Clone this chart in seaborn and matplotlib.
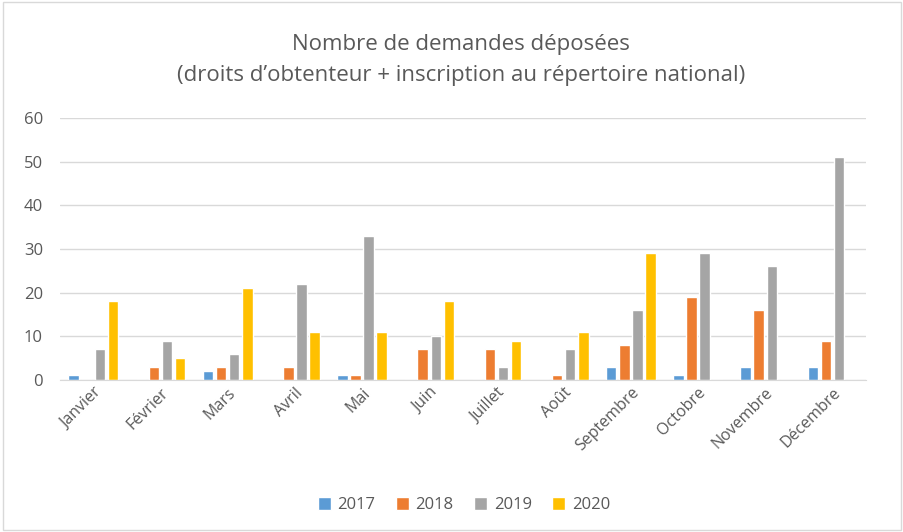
import pandas as pd
import numpy as np
import matplotlib.pyplot as plt
import seaborn as sns

mois = ['Janvier', 'Février', 'Mars', 'Avril', 'Mai', 'Juin', 'Juillet',
        'Août', 'Septembre', 'Octobre', 'Novembre', 'Décembre']
annees = ['2017', '2018', '2019', '2020']
v2017 = [1, 0, 2, 0, 1, 0, 0, 0, 3, 1, 3, 3]
v2018 = [0, 3, 3, 3, 1, 7, 7, 1, 8, 19, 16, 9]
v2019 = [7, 9, 6, 22, 33, 10, 3, 7, 16, 29, 26, 51]
v2020 = [18, 5, 21, 11, 11, 18, 9, 11, 29, 0, 0, 0]

couleurs = ['#5B9BD5', '#ED7D31', '#A5A5A5', '#FFC000']
gris = '#595959'

df = pd.DataFrame({'mois': mois, '2017': v2017, '2018': v2018,
                   '2019': v2019, '2020': v2020})
df = df.melt(id_vars='mois', var_name='annee', value_name='n')

sns.set_style('white')
plt.rcParams['font.family'] = ['Open Sans', 'DejaVu Sans']

fig = plt.figure(figsize=(9.04, 5.32), dpi=100)
ax = fig.add_axes([0.066, 0.286, 0.892, 0.492])

sns.barplot(data=df, x='mois', y='n', hue='annee', hue_order=annees,
            palette=couleurs, width=0.78, gap=0.2, saturation=1, ax=ax,
            legend=True)

ax.set_ylim(0, 60)
ax.set_yticks(range(0, 61, 10))
ax.set_xlim(-0.5, 11.5)
ax.yaxis.grid(True, color='#D9D9D9', linewidth=1)
ax.set_axisbelow(True)
for s in ['top', 'right', 'left']:
    ax.spines[s].set_visible(False)
ax.spines['bottom'].set_color('#D9D9D9')
ax.set_xlabel('')
ax.set_ylabel('')
ax.tick_params(axis='y', length=0, labelsize=12, labelcolor=gris, pad=12)
ax.tick_params(axis='x', length=0, labelsize=11.5, labelcolor=gris)
plt.setp(ax.get_xticklabels(), rotation=45, ha='right', rotation_mode='anchor')

fig.text(0.51, 0.917, 'Nombre de demandes déposées', ha='center', va='center',
         fontsize=16, color=gris)
fig.text(0.51, 0.858, '(droits d\u2019obtenteur + inscription au répertoire national)',
         ha='center', va='center', fontsize=16, color=gris)

ax.legend(loc='center', ncol=4, frameon=False, fontsize=12, handlelength=0.8,
          handleheight=0.8, columnspacing=1.2, handletextpad=0.4, labelcolor=gris)
leg = ax.get_legend()
leg.set_bbox_to_anchor((0.513, 0.05), transform=fig.transFigure)

fig.patches.append(plt.Rectangle((0.003, 0.003), 0.994, 0.994, transform=fig.transFigure,
                                 fill=False, edgecolor='#D9D9D9', linewidth=1))

plt.savefig('out.png', dpi=100)
